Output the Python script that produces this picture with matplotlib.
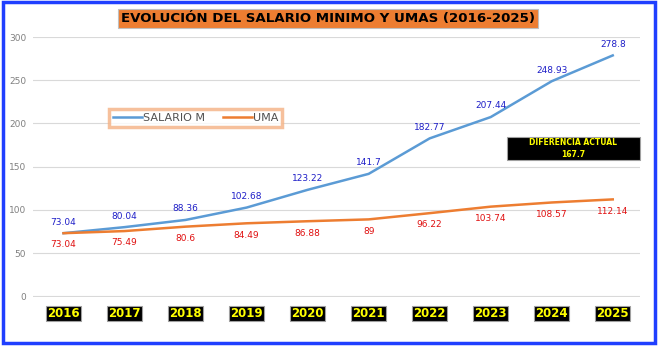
import matplotlib.pyplot as plt
from matplotlib.patches import Rectangle
from matplotlib.lines import Line2D

years = ['2016', '2017', '2018', '2019', '2020', '2021', '2022', '2023', '2024', '2025']
salario = [73.04, 80.04, 88.36, 102.68, 123.22, 141.7, 182.77, 207.44, 248.93, 278.8]
uma = [73.04, 75.49, 80.6, 84.49, 86.88, 89, 96.22, 103.74, 108.57, 112.14]
diferencia = 167.7

fig = plt.figure(figsize=(6.6, 3.5), dpi=100)
ax = fig.add_axes([0.05, 0.151, 0.92, 0.743])

x = list(range(len(years)))
ax.plot(x, salario, color='#5B9BD5', lw=1.8, label='SALARIO M')
ax.plot(x, uma, color='#ED7D31', lw=1.8, label='UMA')

for i in x:
    ax.annotate(f'{salario[i]:g}', (i, salario[i]), xytext=(0, 8), textcoords='offset points',
                ha='center', va='center', fontsize=6.5, color='#1F1FC8')
    ax.annotate(f'{uma[i]:g}', (i, uma[i]), xytext=(0, -8.5), textcoords='offset points',
                ha='center', va='center', fontsize=6.5, color='#E01010')

ax.set_xlim(-0.5, 9.45)
ax.set_ylim(-1, 300)
ax.set_yticks(range(0, 301, 50))
ax.tick_params(axis='y', length=0, labelsize=6.5, labelcolor='#808080', pad=5)
ax.set_xticks([])
ax.grid(axis='y', color='#D9D9D9', lw=0.8)
ax.set_axisbelow(True)
for s in ax.spines.values():
    s.set_visible(False)

# year labels on black boxes
for i, y in enumerate(years):
    ax.text(i, -0.062, y, transform=ax.get_xaxis_transform(), ha='center', va='center',
            fontsize=8.5, fontweight='bold', color='#FFFF00',
            bbox=dict(boxstyle='square,pad=0.08', fc='black', ec='#A0A0A0', lw=0.8))

# title
fig.text(0.497, 0.948, 'EVOLUCIÓN DEL SALARIO MINIMO Y UMAS (2016-2025)', ha='center', va='center',
         fontsize=9.6, fontweight='bold', color='black',
         bbox=dict(boxstyle='square,pad=0.22', fc='#ED7D31', ec='#C0C0C0', lw=0.8))

# legend
handles = [Line2D([], [], color='#5B9BD5', lw=1.8), Line2D([], [], color='#ED7D31', lw=1.8)]
leg = ax.legend(handles, ['SALARIO M', 'UMA'], loc='center', bbox_to_anchor=(0.268, 0.69),
                ncol=2, fontsize=8, frameon=True, fancybox=False, handlelength=2.6,
                handletextpad=0.1, columnspacing=1.6, borderpad=0.35, labelcolor='#505050')
leg.get_frame().set_edgecolor('#F4B183')
leg.get_frame().set_linewidth(2.5)

# difference box
fig.patches.append(Rectangle((0.768, 0.543), 0.2015, 0.066, transform=fig.transFigure,
                             fc='black', ec='#A0A0A0', lw=0.8))
fig.text(0.8685, 0.576, f'DIFERENCIA ACTUAL\n{diferencia:g}', ha='center', va='center',
         fontsize=5.5, fontweight='bold', color='#FFFF00', linespacing=1.5)

# blue outer frame
fig.patches.append(Rectangle((0.004, 0.02), 0.988, 0.975, transform=fig.transFigure,
                             fill=False, ec='#1F3FFF', lw=2.5))

fig.savefig('out.png', dpi=100)
